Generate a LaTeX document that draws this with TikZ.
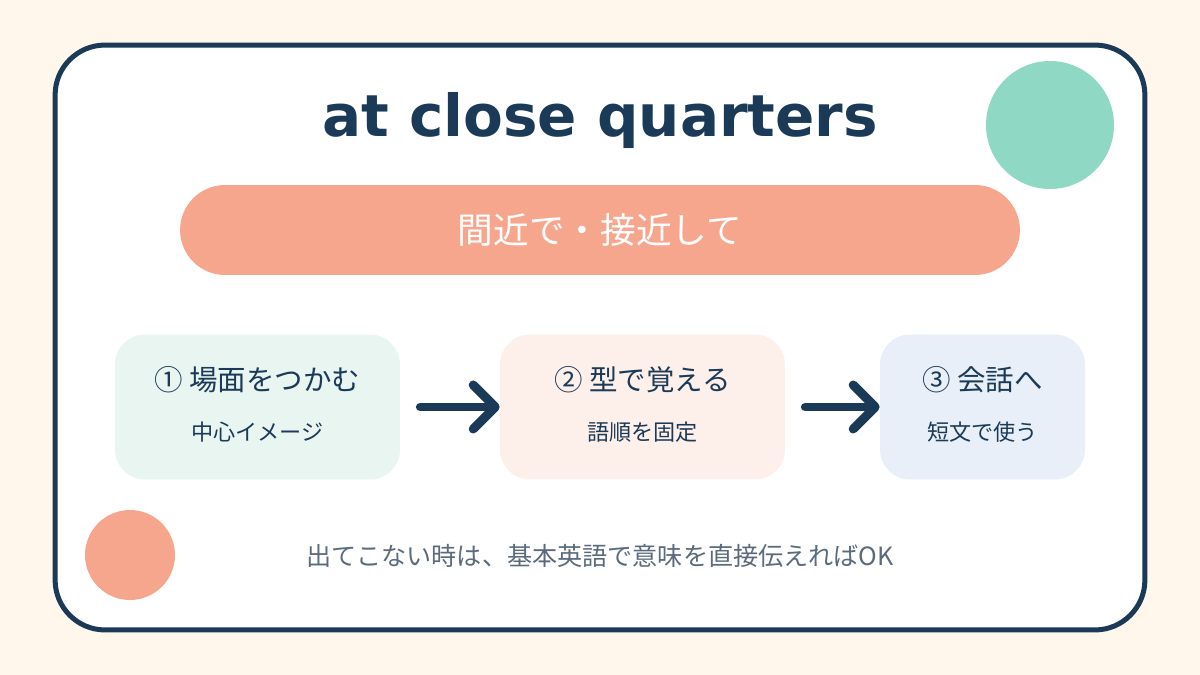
\documentclass[tikz,border=0pt]{standalone}
\usepackage{fontspec}
\setmainfont{Noto Sans CJK JP}
\newfontfamily\titlefont{DejaVu Sans}
\usetikzlibrary{positioning, arrows.meta}

\definecolor{navy}{HTML}{1B3A57}
\definecolor{paper}{HTML}{FFF6EC}
\definecolor{salmon}{HTML}{F7A68E}
\definecolor{mint}{HTML}{8FD8C4}
\definecolor{mintpale}{HTML}{E8F5F1}
\definecolor{rosepale}{HTML}{FDEFEA}
\definecolor{bluepale}{HTML}{E8EFF8}
\definecolor{slate}{HTML}{5B6B7D}

\begin{document}
\begin{tikzpicture}[
    % GLOBAL CFG
    x=0.02cm, y=-0.02cm,
    % Styles
    frame/.style={% For the white card
        rectangle,
        rounded corners=1cm,
        draw=navy,
        line width=2.85pt,
        fill=white,
    },
    banner/.style={% For the meaning pill
        rectangle,
        rounded corners=0.9cm,
        fill=salmon,
        text=white,
        minimum width=16.8cm,
        minimum height=1.8cm,
        font=\fontsize{20.3}{24}\selectfont,
    },
    stepcard/.style={% For the three step boxes
        rectangle,
        rounded corners=0.6cm,
        minimum height=2.9cm,
    },
    blob/.style={% For decorative dots
        circle,
        inner sep=0pt,
    },
    head/.style={% Step titles
        text=navy,
        font=\fontsize{16.2}{19}\selectfont,
    },
    sub/.style={% Step hints
        text=navy,
        font=\fontsize{12.6}{15}\selectfont,
    },
    flow/.style={% Arrows between steps
        draw=navy,
        line width=5.1pt,
        line cap=round,
        shorten <=0.4cm,
        -{Straight Barb[length=4.4mm, width=8.8mm, line cap=round, line join=round]},
    },
    ]
    % Background
    \fill[paper] (0,0) rectangle (1200,675);
    \useasboundingbox (0,0) rectangle (1200,675);

    % Draw card
    \node[frame, minimum width=21.8cm, minimum height=11.7cm] (card) at (600,337.5) {};

    % Draw dots
    \node[blob, fill=mint, minimum size=2.56cm] (dot1) at (1050,125) {};
    \node[blob, fill=salmon, minimum size=1.8cm] (dot2) at (130,555) {};

    % Title and meaning
    \node[text=navy, anchor=base, font=\titlefont\bfseries\fontsize{33}{40}\selectfont] (title) at (600,137) {at close quarters};
    \node[banner] (meaning) at (600,230) {間近で・接近して};

    % Draw steps named b#
    \node[stepcard, fill=mintpale, minimum width=5.7cm] (b1) at (257.5,407) {};
    \node[stepcard, fill=rosepale, minimum width=5.7cm] (b2) at (642.5,407) {};
    \node[stepcard, fill=bluepale, minimum width=4.1cm] (b3) at (982.5,407) {};

    % Step texts
    \node[head] (h1) at (257.5,380) {① 場面をつかむ};
    \node[sub] (s1) at (257.5,432) {中心イメージ};
    \node[head] (h2) at (642.5,380) {② 型で覚える};
    \node[sub] (s2) at (642.5,432) {語順を固定};
    \node[head] (h3) at (982.5,380) {③ 会話へ};
    \node[sub] (s3) at (982.5,432) {短文で使う};

    % Connect steps
    \draw[flow] (b1) -- (b2);
    \draw[flow] (b2) -- (b3);

    % Footer
    \node[text=slate, font=\fontsize{14.3}{17}\selectfont] (note) at (600,556) {出てこない時は、基本英語で意味を直接伝えればOK};

\end{tikzpicture}
\end{document}
